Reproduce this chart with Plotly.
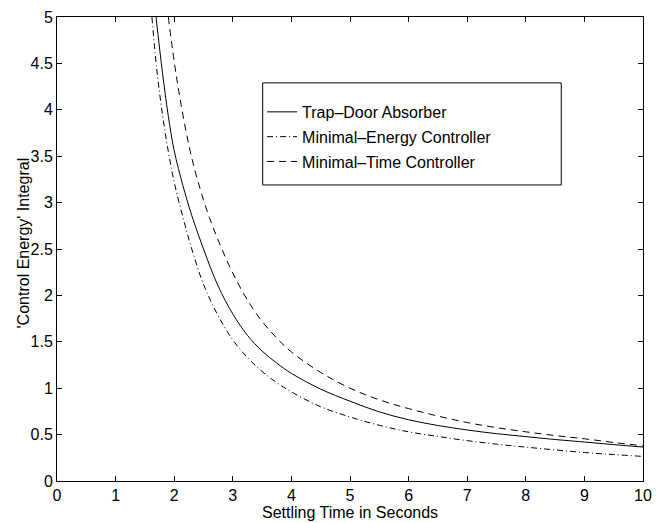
import plotly.graph_objects as go

# Settling time (s) and 'control energy' integral
trap_x = [1.69, 1.80, 1.90, 2.00, 2.15, 2.30, 2.50, 2.75, 3.00, 3.25, 3.50, 3.75, 4.00,
          4.50, 5.00, 5.50, 6.00, 6.50, 7.00, 7.50, 8.00, 8.50, 9.00, 9.50, 10.0]
trap_y = [5.00, 4.40, 3.93, 3.56, 3.18, 2.86, 2.50, 2.10, 1.80, 1.57, 1.40, 1.27, 1.16,
          0.99, 0.86, 0.745, 0.66, 0.598, 0.55, 0.51, 0.478, 0.447, 0.42, 0.392, 0.366]

energy_x = [1.62, 1.70, 1.80, 1.90, 2.00, 2.15, 2.30, 2.50, 2.75, 3.00, 3.25, 3.50, 3.75,
            4.00, 4.50, 5.00, 5.50, 6.00, 6.50, 7.00, 7.50, 8.00, 8.50, 9.00, 9.50, 10.0]
energy_y = [5.00, 4.45, 3.95, 3.55, 3.22, 2.84, 2.50, 2.12, 1.78, 1.52, 1.33, 1.18, 1.06,
            0.96, 0.80, 0.69, 0.60, 0.53, 0.48, 0.435, 0.397, 0.365, 0.335, 0.307, 0.285, 0.265]

time_x = [1.90, 2.00, 2.10, 2.25, 2.40, 2.60, 2.80, 3.00, 3.25, 3.50, 3.75, 4.00, 4.50,
          5.00, 5.50, 6.00, 6.50, 7.00, 7.50, 8.00, 8.50, 9.00, 9.50, 10.0]
time_y = [5.00, 4.52, 4.12, 3.62, 3.24, 2.84, 2.52, 2.24, 1.95, 1.72, 1.54, 1.39, 1.17,
          1.00, 0.875, 0.78, 0.70, 0.63, 0.575, 0.53, 0.49, 0.455, 0.415, 0.38]

series_names = ["Trap\u2013Door Absorber", "Minimal\u2013Energy Controller", "Minimal\u2013Time Controller"]

x_ticks = [0, 1, 2, 3, 4, 5, 6, 7, 8, 9, 10]
y_ticks = [0, 0.5, 1, 1.5, 2, 2.5, 3, 3.5, 4, 4.5, 5]
y_tick_text = ["0", "0.5", "1", "1.5", "2", "2.5", "3", "3.5", "4", "4.5", "5"]

x_title = "Settling Time in Seconds"
y_title = "'Control Energy' Integral"

FONT = "Liberation Sans, Arial, Helvetica, sans-serif"

fig = go.Figure()
fig.add_trace(go.Scatter(x=trap_x, y=trap_y, mode="lines", name=series_names[0],
                         legendgroup="a", line=dict(color="black", width=1, shape="spline")))
fig.add_trace(go.Scatter(x=energy_x, y=energy_y, mode="lines", name=series_names[1],
                         legendgroup="b",
                         line=dict(color="black", width=1, dash="6px,3px,1px,3px", shape="spline")))
fig.add_trace(go.Scatter(x=time_x, y=time_y, mode="lines", name=series_names[2],
                         legendgroup="c",
                         line=dict(color="black", width=1, dash="7px,5px", shape="spline")))

axis_common = dict(showline=True, linecolor="black", linewidth=1, mirror="ticks",
                   ticks="inside", ticklen=5, tickcolor="black", showgrid=False,
                   zeroline=False, tickfont=dict(family=FONT, size=16, color="black"))

fig.update_xaxes(range=[0, 10], tickvals=x_ticks, **axis_common)
fig.update_yaxes(range=[0, 5], tickvals=y_ticks, ticktext=y_tick_text, **axis_common)

# axis titles
fig.add_annotation(text=x_title, xref="paper", yref="paper", x=0.5, y=-0.068,
                   xanchor="center", yanchor="middle", showarrow=False,
                   font=dict(family=FONT, size=16, color="black"))
fig.add_annotation(text=y_title, xref="paper", yref="paper", x=-0.058, y=0.512,
                   xanchor="center", yanchor="middle", showarrow=False, textangle=-90,
                   font=dict(family=FONT, size=16, color="black"))

# legend frame
fig.add_shape(type="rect", xref="paper", yref="paper", x0=0.351, x1=0.8605, y0=0.638, y1=0.858,
              line=dict(color="black", width=1), fillcolor="white", layer="below")

fig.update_layout(
    width=661, height=523,
    margin=dict(l=57, r=9, t=13, b=42),
    paper_bgcolor="white", plot_bgcolor="white",
    showlegend=True,
    hovermode=False,
    legend=dict(x=0.350, y=0.832, xanchor="left", yanchor="top",
                bgcolor="rgba(0,0,0,0)", borderwidth=0, tracegroupgap=1,
                font=dict(family=FONT, size=16, color="black")),
)

fig.write_html("out.html", config={"displayModeBar": False},
               post_script="document.body.style.margin='0px';document.body.style.overflow='hidden';")
